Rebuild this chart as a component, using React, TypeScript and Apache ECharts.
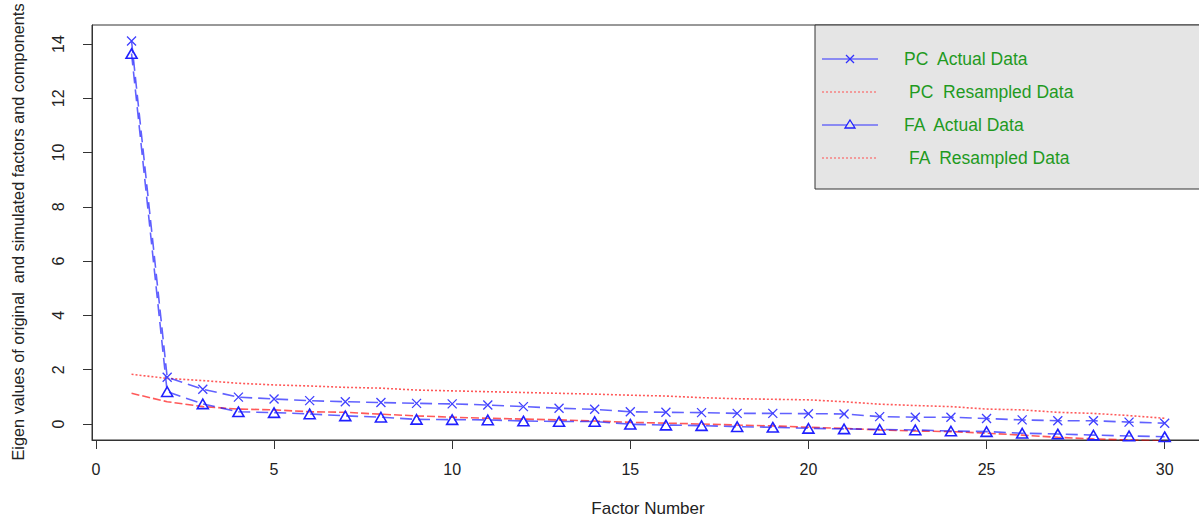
import React, { useEffect, useRef } from "react";
import * as echarts from "echarts";

const factors = [1, 2, 3, 4, 5, 6, 7, 8, 9, 10, 11, 12, 13, 14, 15, 16, 17, 18, 19, 20, 21, 22, 23, 24, 25, 26, 27, 28, 29, 30];
const pcActual = [14.11, 1.72, 1.28, 0.99, 0.92, 0.86, 0.82, 0.79, 0.76, 0.74, 0.70, 0.64, 0.58, 0.54, 0.45, 0.43, 0.42, 0.39, 0.39, 0.38, 0.37, 0.27, 0.25, 0.25, 0.20, 0.15, 0.12, 0.12, 0.07, 0.03];
const pcResampled = [1.83, 1.68, 1.60, 1.50, 1.44, 1.40, 1.35, 1.32, 1.25, 1.22, 1.19, 1.16, 1.13, 1.10, 1.06, 1.03, 0.97, 0.93, 0.91, 0.89, 0.82, 0.73, 0.68, 0.64, 0.55, 0.52, 0.43, 0.39, 0.31, 0.21];
const faActual = [13.65, 1.19, 0.74, 0.45, 0.42, 0.37, 0.30, 0.25, 0.17, 0.16, 0.15, 0.11, 0.09, 0.09, -0.01, -0.04, -0.06, -0.10, -0.12, -0.16, -0.18, -0.20, -0.22, -0.26, -0.28, -0.34, -0.37, -0.41, -0.44, -0.47];
const faResampled = [1.13, 0.82, 0.64, 0.55, 0.52, 0.45, 0.43, 0.36, 0.30, 0.25, 0.21, 0.18, 0.15, 0.11, 0.06, 0.03, 0.0, -0.04, -0.07, -0.12, -0.16, -0.22, -0.26, -0.28, -0.34, -0.41, -0.49, -0.55, -0.59, -0.62];

const xTicks = [0, 5, 10, 15, 20, 25, 30];
const yTicks = [0, 2, 4, 6, 8, 10, 12, 14];
const seriesNames = ["PC  Actual Data", "PC  Resampled Data", "FA  Actual Data", "FA  Resampled Data"];
const xTitle = "Factor Number";
const yTitle = "Eigen values of original  and simulated factors and components";

const BLUE = "rgba(0,0,255,0.62)";
const RED = "rgba(255,0,0,0.65)";
const GREEN = "#1f9a1f";
const FONT = "Liberation Sans, Arial, sans-serif";

const crossSymbol = "path://M0,0L10,10M10,0L0,10";
const triSymbol = "path://M5,0L10,8.66L0,8.66Z";

export default function App() {
  const ref = useRef<HTMLDivElement>(null);
  useEffect(() => {
    if (!ref.current) return;
    const chart = echarts.init(ref.current, undefined, { renderer: "svg" });
    const pairs = (vals: number[]) => factors.map((f, i) => [f, vals[i]]);

    const legendX0 = 822;
    const legendX1 = 878;
    const rowY = [59, 92, 125, 158];
    const textX = [904, 909, 904, 909];
    const legendGraphics: any[] = [
      {
        type: "rect",
        shape: { x: 815, y: 25, width: 420, height: 164 },
        style: { fill: "#e5e5e5", stroke: "#333", lineWidth: 1 },
        z: 100,
      },
    ];
    seriesNames.forEach((name, i) => {
      const y = rowY[i];
      const isActual = i % 2 === 0;
      legendGraphics.push({
        type: "line",
        shape: { x1: legendX0, y1: y, x2: legendX1, y2: y },
        style: isActual
          ? { stroke: "#3030ff", lineWidth: 1.2 }
          : { stroke: "#ff5050", lineWidth: 1.2, lineDash: [2, 2] },
        z: 101,
      });
      if (i === 0) {
        legendGraphics.push(
          { type: "line", shape: { x1: 846, y1: y - 4, x2: 854, y2: y + 4 }, style: { stroke: "#3030ff", lineWidth: 1.2 }, z: 102 },
          { type: "line", shape: { x1: 846, y1: y + 4, x2: 854, y2: y - 4 }, style: { stroke: "#3030ff", lineWidth: 1.2 }, z: 102 }
        );
      }
      if (i === 2) {
        legendGraphics.push({
          type: "polygon",
          shape: { points: [[850, y - 5], [855, y + 3], [845, y + 3]] },
          style: { fill: "#e5e5e5", stroke: "#2020ff", lineWidth: 1.3 },
          z: 102,
        });
      }
      legendGraphics.push({
        type: "text",
        x: textX[i],
        y,
        style: {
          text: name,
          fill: GREEN,
          font: `17.5px ${FONT}`,
          textAlign: "left",
          textVerticalAlign: "middle",
        },
        z: 102,
      });
    });

    chart.setOption({
      animation: false,
      backgroundColor: "#ffffff",
      grid: {
        left: 92,
        top: 25,
        right: -7,
        bottom: 78,
        show: true,
        borderColor: "#333",
        borderWidth: 1,
        backgroundColor: "transparent",
        containLabel: false,
        outerBoundsMode: "none",
      },
      xAxis: {
        type: "value",
        min: -0.11,
        max: 31.16,
        splitLine: { show: false },
        axisLine: { show: true, onZero: false, lineStyle: { color: "#333", width: 1 } },
        axisTick: { show: true, length: 9, customValues: xTicks, lineStyle: { color: "#333" } },
        axisLabel: {
          show: true,
          customValues: xTicks,
          margin: 21,
          color: "#222",
          fontSize: 16,
          fontFamily: FONT,
        },
      },
      yAxis: {
        type: "value",
        min: -0.59,
        max: 14.7,
        splitLine: { show: false },
        axisLine: { show: true, onZero: false, lineStyle: { color: "#333", width: 1 } },
        axisTick: { show: true, length: 9, customValues: yTicks, lineStyle: { color: "#333" } },
        axisLabel: {
          show: true,
          customValues: yTicks,
          rotate: 90,
          margin: 26,
          color: "#222",
          fontSize: 16,
          fontFamily: FONT,
        },
      },
      graphic: [
        {
          type: "text",
          x: 648,
          y: 508,
          style: {
            text: xTitle,
            fill: "#222",
            font: `17px ${FONT}`,
            textAlign: "center",
            textVerticalAlign: "middle",
          },
        },
        {
          type: "text",
          x: 18,
          y: 232,
          rotation: Math.PI / 2,
          style: {
            text: yTitle,
            fill: "#222",
            font: `16.3px ${FONT}`,
            textAlign: "center",
            textVerticalAlign: "middle",
          },
        },
        ...legendGraphics,
      ],
      series: [
        {
          name: seriesNames[0],
          type: "line",
          data: pairs(pcActual),
          symbol: crossSymbol,
          symbolSize: 9,
          showSymbol: true,
          itemStyle: { color: "rgba(0,0,0,0)", borderColor: "#4040ff", borderWidth: 1.3 },
          lineStyle: { color: BLUE, width: 1.6, type: [12, 6] },
          emphasis: { disabled: true },
          z: 3,
        },
        {
          name: seriesNames[1],
          type: "line",
          data: pairs(pcResampled),
          symbol: "none",
          lineStyle: { color: RED, width: 1.6, type: [2, 2] },
          emphasis: { disabled: true },
          z: 2,
        },
        {
          name: seriesNames[2],
          type: "line",
          data: pairs(faActual),
          symbol: triSymbol,
          symbolSize: 11,
          symbolKeepAspect: true,
          showSymbol: true,
          itemStyle: { color: "rgba(0,0,0,0)", borderColor: "#2020ff", borderWidth: 1.6 },
          lineStyle: { color: BLUE, width: 1.6, type: [12, 6] },
          emphasis: { disabled: true },
          z: 3,
        },
        {
          name: seriesNames[3],
          type: "line",
          data: pairs(faResampled),
          symbol: "none",
          lineStyle: { color: RED, width: 1.6, type: [8, 3] },
          emphasis: { disabled: true },
          z: 2,
        },
      ],
    });
    return () => chart.dispose();
  }, []);

  return (
    <div
      ref={ref}
      style={{ position: "fixed", left: 0, top: 0, width: 1199, height: 518, background: "#fff" }}
    />
  );
}
